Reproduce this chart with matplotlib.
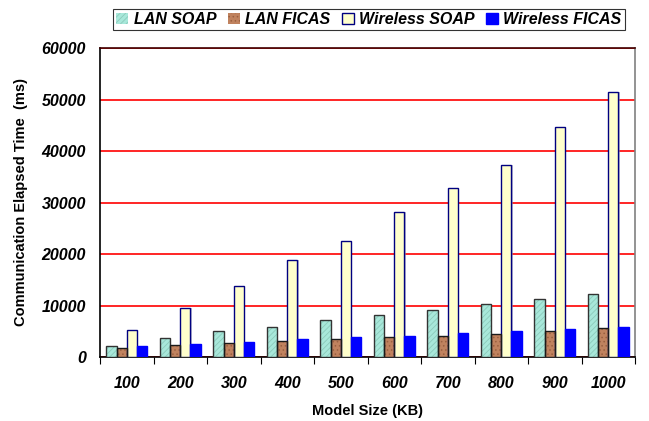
import numpy as np
import matplotlib.pyplot as plt
from matplotlib.patches import Patch

plt.rcParams['font.family'] = ['Liberation Sans', 'DejaVu Sans']
plt.rcParams['hatch.linewidth'] = 0.6

sizes = ["100", "200", "300", "400", "500", "600", "700", "800", "900", "1000"]
lan_soap = [2200, 3600, 5100, 5900, 7150, 8170, 9220, 10250, 11230, 12200]
lan_ficas = [1830, 2280, 2670, 3050, 3440, 3830, 4160, 4550, 5130, 5580]
wireless_soap = [5330, 9610, 13700, 18800, 22450, 28200, 32820, 37350, 44630, 51360]
wireless_ficas = [2200, 2600, 3000, 3440, 3890, 4090, 4610, 5000, 5390, 5780]

# name, values, fill, outline, hatch, hatch colour
series = [
    ("LAN SOAP", lan_soap, "#a8e8da", "#333333", "//////", "#8ccabb"),
    ("LAN FICAS", lan_ficas, "#c0825e", "#1a1a1a", "....", "#9a6040"),
    ("Wireless SOAP", wireless_soap, "#ffffcc", "#000080", None, None),
    ("Wireless FICAS", wireless_ficas, "#0000ff", "#0000ff", None, None),
]

fig = plt.figure(figsize=(6.49, 4.21), dpi=100)
ax = fig.add_axes([100 / 649, 1 - 357 / 421, 535 / 649, 309 / 421])

x = np.arange(len(sizes))
w = 0.19
handles = []
for i, (name, vals, fc, ec, hatch, hc) in enumerate(series):
    pos = x + (i - 1.5) * w
    # shadow
    ax.bar(pos + 0.025, vals, w, color="#9090b8", alpha=0.6,
           edgecolor="none", zorder=2)
    if hatch:
        ax.bar(pos, vals, w, color=fc, edgecolor=hc, linewidth=0,
               hatch=hatch, zorder=3)
        ax.bar(pos, vals, w, color="none", edgecolor=ec, linewidth=1.0, zorder=4)
        handles.append(Patch(facecolor=fc, edgecolor=hc, hatch=hatch, linewidth=0))
    else:
        ax.bar(pos, vals, w, color=fc, edgecolor=ec, linewidth=1.0, zorder=3)
        handles.append(Patch(facecolor=fc, edgecolor=ec, linewidth=1.0))

ax.set_xlim(-0.5, len(sizes) - 0.5)
ax.set_ylim(0, 60000)
ax.set_yticks(range(0, 60001, 10000))
ax.set_yticklabels([str(v) for v in range(0, 60001, 10000)],
                   fontsize=11.5, fontweight="bold", fontstyle="italic")
ax.yaxis.grid(True, color="red", linewidth=1.2)
ax.set_axisbelow(True)
ax.tick_params(axis="y", length=0, pad=10)

ax.set_xticks(np.arange(len(sizes) + 1) - 0.5)
ax.set_xticklabels([])
ax.set_xticks(x, minor=True)
ax.set_xticklabels(sizes, minor=True, fontsize=11.5, fontweight="bold",
                   fontstyle="italic")
ax.tick_params(axis="x", which="major", length=5, direction="out", color="black")
ax.tick_params(axis="x", which="minor", length=0, pad=14)

ax.spines["left"].set_color("black")
ax.spines["bottom"].set_color("black")
ax.spines["top"].set_color("#400000")
ax.spines["right"].set_color("#808080")
for s in ax.spines.values():
    s.set_linewidth(1.2)

ax.set_xlabel("Model Size (KB)", fontsize=10.5, fontweight="bold", labelpad=9)
ax.set_ylabel("Communication Elapsed Time  (ms)", fontsize=10.5, fontweight="bold",
              labelpad=10)

leg = fig.legend(handles=handles, labels=[s[0] for s in series], loc="upper center",
                 bbox_to_anchor=(369 / 649, 1 - 1 / 421), ncol=4, frameon=True,
                 fancybox=False, edgecolor="black", handlelength=0.75,
                 handleheight=0.75, handletextpad=0.35, columnspacing=0.7,
                 borderpad=0.2,
                 prop={"size": 11.5, "weight": "bold", "style": "italic"})
leg.get_frame().set_linewidth(0.8)

fig.savefig("out.png", dpi=100)
